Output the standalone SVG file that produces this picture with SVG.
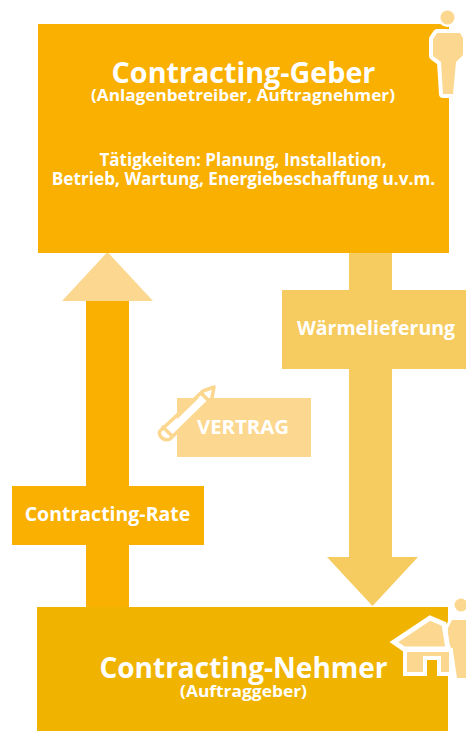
<svg xmlns="http://www.w3.org/2000/svg" width="466" height="731" viewBox="0 0 466 731">
<style>
text{font-family:"Open Sans","Noto Sans",sans-serif;font-weight:700;fill:#fff;text-anchor:middle}
.orange{fill:#fab000}.gold{fill:#f0b400}.warm{fill:#f6cb60}.light{fill:#fbd78f}
.halo{stroke:#fff;stroke-linejoin:round;paint-order:stroke}
.pen{fill:none;stroke:#fbd78f;stroke-width:3.5;stroke-linejoin:round;stroke-linecap:round}
</style>
<rect width="466" height="731" fill="#fff"/>
<g id="connectors">
<g id="arrow-rate">
<rect class="orange" x="86" y="300" width="43" height="308"/>
<polygon class="light" points="62,301 153,301 107.500,252"/>
</g>
<g id="arrow-waerme">
<rect class="warm" x="349" y="252" width="43" height="306"/>
<polygon class="warm" points="327,557 418,557 372.500,606"/>
</g>
</g>
<g id="node-geber">
<rect class="orange" x="38" y="24" width="411" height="229"/>
<text x="243.500" y="83" font-size="28.700">Contracting-Geber</text>
<text x="243" y="101" font-size="15.500" textLength="304" lengthAdjust="spacingAndGlyphs">(Anlagenbetreiber, Auftragnehmer)</text>
<text x="243" y="166" font-size="17">Tätigkeiten: Planung, Installation,</text>
<text x="243.500" y="185" font-size="17.200">Betrieb, Wartung, Energiebeschaffung u.v.m.</text>
<g id="person-geber">
<circle class="light halo" stroke-width="5" cx="447.500" cy="17.500" r="7"/>
<polygon class="light halo" stroke-width="8" points="437,33 460,33 463,38 463,55 456,62 453,94 443,94 441,62 433,56 433,39"/>
</g>
</g>
<g id="node-waerme">
<rect class="warm" x="282" y="290" width="184" height="79"/>
<text x="376" y="335" font-size="19.500">Wärmelieferung</text>
</g>
<g id="node-vertrag">
<rect class="light" x="177" y="398" width="134" height="59"/>
<text x="243" y="434" font-size="20.400">VERTRAG</text>
<g id="pencil">
<polygon points="164,432 205,392 213,388 211,398 171,438 163,438" fill="#fff"/>
<path class="pen" d="M160,431 L203,391 L214,387 L212,398 L170,439 Q166,441 162,438 Q158,434 160,431 Z"/>
<path class="pen" d="M201,393 L210,402 M163,427 L172,436"/>
</g>
</g>
<g id="node-rate">
<rect class="orange" x="12" y="486" width="192" height="59"/>
<text x="107.500" y="521" font-size="19.500">Contracting-Rate</text>
</g>
<g id="node-nehmer">
<rect class="gold" x="37" y="607" width="411" height="124"/>
<text x="243.500" y="678" font-size="28">Contracting-Nehmer</text>
<text x="243.500" y="697" font-size="15.500" textLength="127" lengthAdjust="spacingAndGlyphs">(Auftraggeber)</text>
<g id="person-nehmer">
<circle class="light" cx="461" cy="605" r="6.500"/>
<polygon class="light halo" stroke-width="6" points="452,620 466,620 466,678 457,678 453,651 448,643 448,628"/>
</g>
<g id="house">
<polygon class="light" points="394,642 430,618 444,624 448,649 404,649" stroke="#fff" stroke-width="5" stroke-linejoin="miter"/>
<polygon class="light" points="405,650 451,650 451,674 439,674 439,658 425,658 425,674 405,674" stroke="#fff" stroke-width="4"/>
</g>
</g>
</svg>
